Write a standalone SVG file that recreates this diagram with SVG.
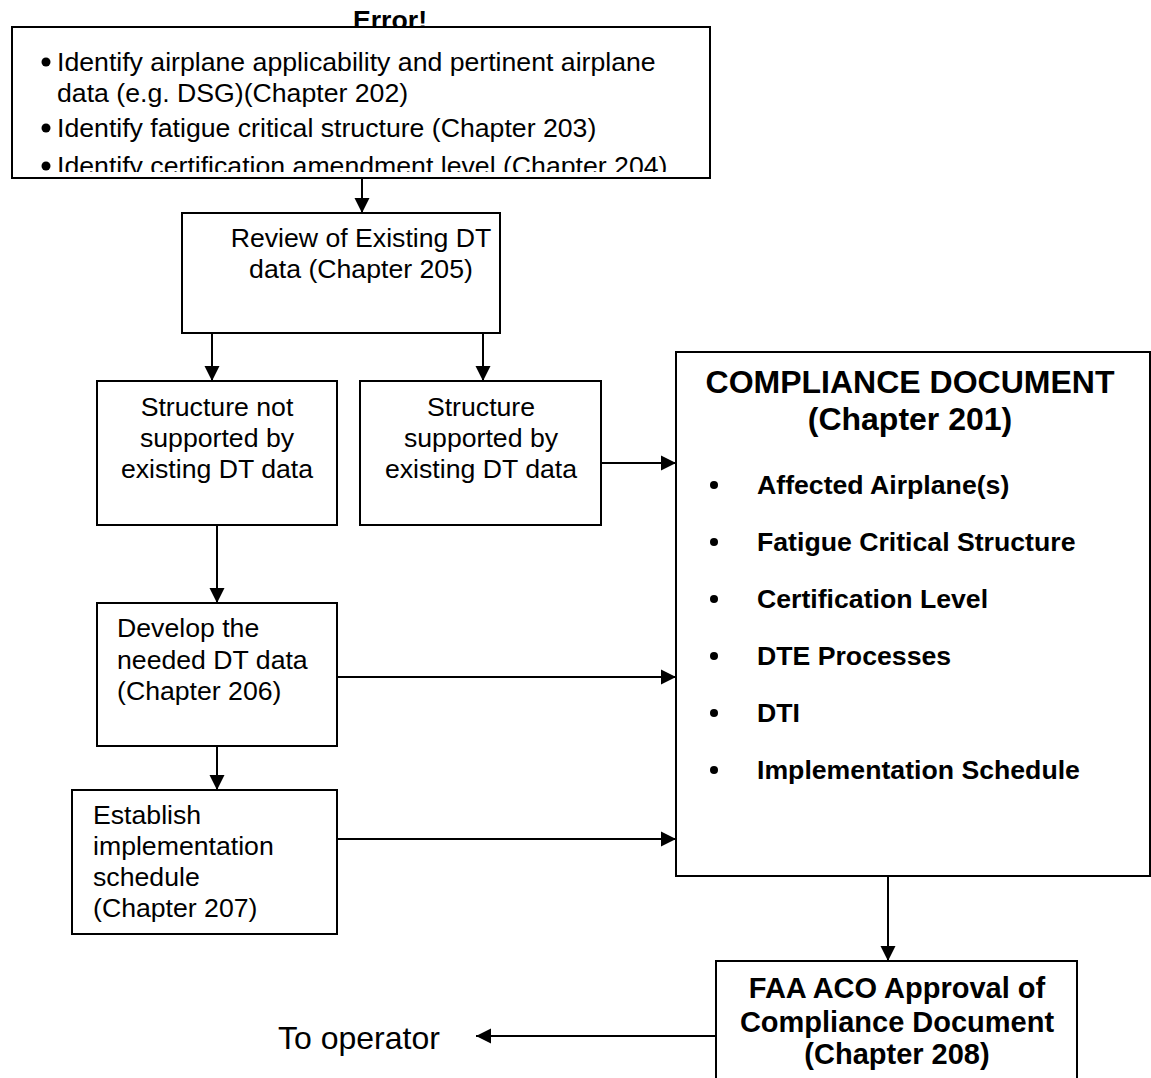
<svg xmlns="http://www.w3.org/2000/svg" width="1151" height="1078" viewBox="0 0 1151 1078">
  <style>
    .box { fill: #ffffff; stroke: #000000; stroke-width: 2; }
    .t { font-family: "Liberation Sans", Arial, sans-serif; fill: #000000; }
    .b { font-family: "Liberation Sans", Arial, sans-serif; font-weight: bold; fill: #000000; }
    .mid { text-anchor: middle; }
    .edge { stroke: #000000; stroke-width: 2; fill: none; marker-end: url(#arrow); }
  </style>
  <defs>
    <marker id="arrow" markerUnits="userSpaceOnUse" markerWidth="16" markerHeight="16" refX="15" refY="8" orient="auto">
      <path d="M0,0.5 L15,8 L0,15.5 z" fill="#000000"/>
    </marker>
    <clipPath id="topClip">
      <rect x="13" y="28" width="696" height="144"/>
    </clipPath>
  </defs>
  <rect width="1151" height="1078" fill="#ffffff"/>

  <!-- heading partly covered by the first box -->
  <text class="b mid" x="390" y="29" font-size="26.67">Error!</text>

  <!-- connectors -->
  <g id="connectors">
    <line class="edge" x1="362" y1="178" x2="362" y2="213"/>
    <line class="edge" x1="212" y1="333" x2="212" y2="381"/>
    <line class="edge" x1="483" y1="333" x2="483" y2="381"/>
    <line class="edge" x1="601" y1="463" x2="676" y2="463"/>
    <line class="edge" x1="217" y1="525" x2="217" y2="603"/>
    <line class="edge" x1="337" y1="677" x2="676" y2="677"/>
    <line class="edge" x1="217" y1="746" x2="217" y2="790"/>
    <line class="edge" x1="337" y1="839" x2="676" y2="839"/>
    <line class="edge" x1="888" y1="876" x2="888" y2="961"/>
    <line class="edge" x1="716" y1="1036" x2="476" y2="1036"/>
  </g>

  <!-- identification steps -->
  <g id="identify">
    <rect class="box" x="12" y="27" width="698" height="151"/>
    <g clip-path="url(#topClip)" class="t" font-size="26.67">
      <circle cx="46" cy="62" r="4.5"/>
      <text x="57" y="71">Identify airplane applicability and pertinent airplane</text>
      <text x="57" y="102">data (e.g. DSG)(Chapter 202)</text>
      <circle cx="46" cy="128" r="4.5"/>
      <text x="57" y="137">Identify fatigue critical structure (Chapter 203)</text>
      <circle cx="46" cy="166" r="4.5"/>
      <text x="57" y="175">Identify certification amendment level (Chapter 204)</text>
    </g>
  </g>

  <g id="review" class="t" font-size="26.67">
    <rect class="box" x="182" y="213" width="318" height="120"/>
    <text class="mid" x="361" y="247">Review of Existing DT</text>
    <text class="mid" x="361" y="278">data (Chapter 205)</text>
  </g>

  <g id="not-supported" class="t" font-size="26.67">
    <rect class="box" x="97" y="381" width="240" height="144"/>
    <text class="mid" x="217" y="416">Structure not</text>
    <text class="mid" x="217" y="447">supported by</text>
    <text class="mid" x="217" y="478">existing DT data</text>
  </g>

  <g id="supported" class="t" font-size="26.67">
    <rect class="box" x="360" y="381" width="241" height="144"/>
    <text class="mid" x="481" y="416">Structure</text>
    <text class="mid" x="481" y="447">supported by</text>
    <text class="mid" x="481" y="478">existing DT data</text>
  </g>

  <g id="develop" class="t" font-size="26.67">
    <rect class="box" x="97" y="603" width="240" height="143"/>
    <text x="117" y="637">Develop the</text>
    <text x="117" y="669">needed DT data</text>
    <text x="117" y="700">(Chapter 206)</text>
  </g>

  <g id="establish" class="t" font-size="26.67">
    <rect class="box" x="72" y="790" width="265" height="144"/>
    <text x="93" y="824">Establish</text>
    <text x="93" y="855">implementation</text>
    <text x="93" y="886">schedule</text>
    <text x="93" y="917">(Chapter 207)</text>
  </g>

  <g id="compliance-document">
    <rect class="box" x="676" y="352" width="474" height="524"/>
    <text class="b mid" x="910" y="393" font-size="32">COMPLIANCE DOCUMENT</text>
    <text class="b mid" x="910" y="430" font-size="32">(Chapter 201)</text>
    <g class="b" font-size="26.67">
      <circle cx="714" cy="485" r="4"/>
      <text x="757" y="494">Affected Airplane(s)</text>
      <circle cx="714" cy="542" r="4"/>
      <text x="757" y="551">Fatigue Critical Structure</text>
      <circle cx="714" cy="599" r="4"/>
      <text x="757" y="608">Certification Level</text>
      <circle cx="714" cy="656" r="4"/>
      <text x="757" y="665">DTE Processes</text>
      <circle cx="714" cy="713" r="4"/>
      <text x="757" y="722">DTI</text>
      <circle cx="714" cy="770" r="4"/>
      <text x="757" y="779">Implementation Schedule</text>
    </g>
  </g>

  <g id="faa-approval">
    <rect class="box" x="716" y="961" width="361" height="130"/>
    <text class="b mid" x="897" y="998" font-size="29">FAA ACO Approval of</text>
    <text class="b mid" x="897" y="1032" font-size="29">Compliance Document</text>
    <text class="b mid" x="897" y="1064" font-size="29">(Chapter 208)</text>
  </g>

  <g id="to-operator">
    <text class="t" x="278" y="1049" font-size="32">To operator</text>
  </g>
</svg>
